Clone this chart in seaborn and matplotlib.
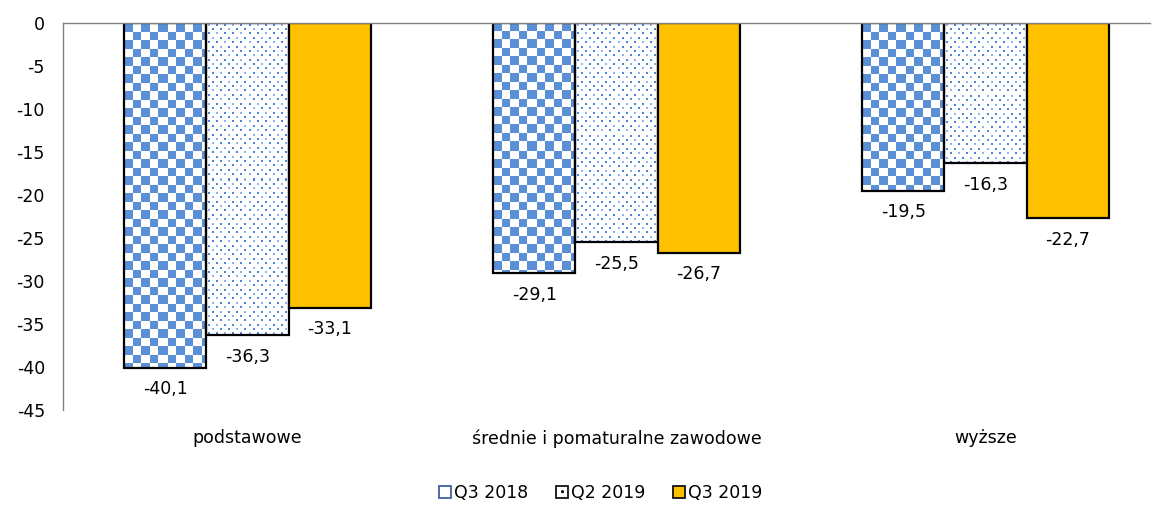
import numpy as np
import pandas as pd
import seaborn as sns
from matplotlib import pyplot as plt
from matplotlib.patches import Patch

categories = ["podstawowe", "średnie i pomaturalne zawodowe", "wyższe"]
series = ["Q3 2018", "Q2 2019", "Q3 2019"]
q3_2018 = [-40.1, -29.1, -19.5]
q2_2019 = [-36.3, -25.5, -16.3]
q3_2019 = [-33.1, -26.7, -22.7]

BLUE = "#5B8FD6"
GOLD = "#FFC000"
DPI = 100


def checker(h, w, cell=8.5):
    yy, xx = np.mgrid[0:h, 0:w]
    mask = ((yy // cell).astype(int) + (xx // cell).astype(int)) % 2 == 0
    img = np.ones((h, w, 3))
    img[mask] = np.array([0x5B, 0x8F, 0xD6]) / 255
    return img


def dots(h, w):
    img = np.ones((h, w, 3))
    dark = np.array([0x4F, 0x86, 0xD6]) / 255
    light = np.array([0x8F, 0xB5, 0xE8]) / 255
    r = 0
    y = 2.0
    while y < h - 1:
        yi = int(y)
        off = 2 + (4 if r % 2 else 0)
        for x in range(off, w - 1, 8):
            img[yi:yi + 2, x:x + 2] = dark if (x // 8 + r) % 3 else light
        y += 4.4
        r += 1
    return img


if __name__ == "__main__":
    df = pd.DataFrame({
        "cat": categories * 3,
        "series": [s for s in series for _ in categories],
        "val": q3_2018 + q2_2019 + q3_2019,
    })

    sns.set_style("white")
    plt.rcParams["font.family"] = ["DejaVu Sans"]
    plt.rcParams["axes.unicode_minus"] = False
    plt.rcParams["text.color"] = "black"
    plt.rcParams["xtick.color"] = "black"
    plt.rcParams["ytick.color"] = "black"

    W, H = 1157, 507
    fig = plt.figure(figsize=(W / DPI, H / DPI), dpi=DPI)
    left, right, top, bottom = 63, 1150, 23, 410
    ax = fig.add_axes([left / W, 1 - bottom / H, (right - left) / W, (bottom - top) / H])

    sns.barplot(data=df, x="cat", y="val", hue="series", order=categories,
                hue_order=series, palette=["white", "white", GOLD],
                saturation=1, width=0.667, edgecolor="black", linewidth=1.6,
                legend=False, ax=ax)

    xlim = (-0.5, -0.5 + (right - left) / 369)
    ylim = (-45, 0)
    px_x = (right - left) / (xlim[1] - xlim[0])
    px_y = (bottom - top) / (ylim[1] - ylim[0])

    for i, cont in enumerate(ax.containers):
        for bar in cont:
            x0 = bar.get_x()
            w = bar.get_width()
            y0 = bar.get_y()
            h = bar.get_height()
            ytop, ybot = max(y0, y0 + h), min(y0, y0 + h)
            v = ybot
            if i < 2:
                bar.set_facecolor("none")
                hp = max(int(round((ytop - ybot) * px_y)), 1)
                wp = max(int(round(w * px_x)), 1)
                img = checker(hp, wp) if i == 0 else dots(hp, wp)
                im = ax.imshow(img, extent=(x0, x0 + w, ybot, ytop),
                               aspect="auto", interpolation="nearest",
                               zorder=0.9)
                im.set_clip_path(bar)
            ax.annotate(f"{v:.1f}".replace(".", ","), xy=(x0 + w / 2, v),
                        xytext=(0, -9), textcoords="offset points",
                        ha="center", va="top", fontsize=12.5)

    ax.set_xlim(*xlim)
    ax.set_ylim(*ylim)
    ax.set_yticks(range(-45, 1, 5))
    ax.set_xlabel("")
    ax.set_ylabel("")
    ax.tick_params(axis="x", length=0, pad=14, labelsize=12.5)
    ax.tick_params(axis="y", length=0, pad=13, labelsize=12.5)
    for s in ["right", "bottom"]:
        ax.spines[s].set_visible(False)
    for s in ["top", "left"]:
        ax.spines[s].set_color("#808080")
        ax.spines[s].set_linewidth(1)

    handles = [
        Patch(facecolor="white", edgecolor="#2F5597", linewidth=1.2),
        Patch(facecolor="white", edgecolor="black", hatch="..", linewidth=1.2),
        Patch(facecolor=GOLD, edgecolor="black", linewidth=1.2),
    ]
    fig.legend(handles, series, loc="center", bbox_to_anchor=(0.519, 1 - 493 / H),
               ncol=3, frameon=False, handlelength=0.7, handleheight=0.7,
               handletextpad=0.15, columnspacing=1.6, fontsize=12.5)

    plt.savefig("out.png", dpi=DPI)
